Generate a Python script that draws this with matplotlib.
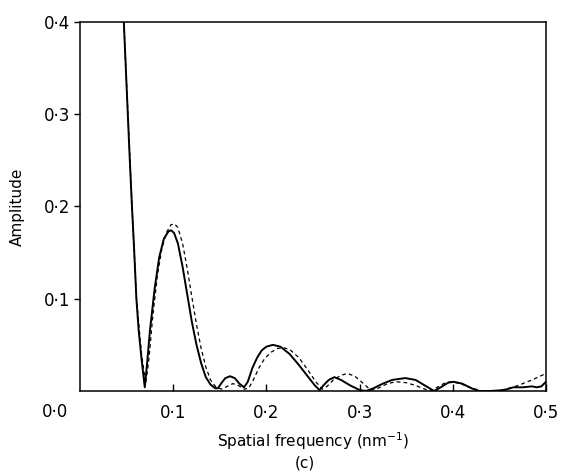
import matplotlib
matplotlib.use("Agg")
import matplotlib.pyplot as plt

# Solid curve (spatial frequency nm^-1, amplitude)
solid_x = [0.047, 0.050, 0.053, 0.0555, 0.058, 0.0605, 0.063, 0.066, 0.0695, 0.072,
           0.075, 0.080, 0.085, 0.090, 0.095, 0.098, 0.101, 0.105, 0.110, 0.115,
           0.120, 0.125, 0.130, 0.135, 0.140, 0.145, 0.148, 0.152, 0.156, 0.161,
           0.166, 0.171, 0.176, 0.180, 0.185, 0.190, 0.195, 0.200, 0.207, 0.215,
           0.225, 0.235, 0.245, 0.252, 0.257, 0.262, 0.267, 0.273, 0.280, 0.290,
           0.300, 0.307, 0.315, 0.325, 0.335, 0.349, 0.360, 0.370, 0.380, 0.387,
           0.395, 0.401, 0.410, 0.420, 0.428, 0.440, 0.455, 0.465, 0.475, 0.485,
           0.490, 0.495, 0.500]
solid_y = [0.400, 0.330, 0.260, 0.205, 0.155, 0.100, 0.065, 0.035, 0.004, 0.030,
           0.065, 0.110, 0.145, 0.165, 0.173, 0.174, 0.171, 0.160, 0.135, 0.105,
           0.075, 0.050, 0.030, 0.015, 0.007, 0.003, 0.003, 0.009, 0.014, 0.016,
           0.014, 0.008, 0.004, 0.010, 0.025, 0.036, 0.044, 0.048, 0.050, 0.048,
           0.040, 0.028, 0.015, 0.006, 0.001, 0.007, 0.012, 0.015, 0.012, 0.006,
           0.001, 0.000, 0.003, 0.008, 0.012, 0.014, 0.012, 0.006, 0.000, 0.004,
           0.009, 0.010, 0.008, 0.003, 0.000, 0.000, 0.001, 0.004, 0.004, 0.005,
           0.004, 0.005, 0.010]

# Dashed curve
dashed_x = [0.047, 0.0555, 0.0606, 0.066, 0.0705, 0.074, 0.078, 0.083, 0.088, 0.093,
            0.0975, 0.1015, 0.105, 0.110, 0.115, 0.120, 0.125, 0.130, 0.135, 0.140,
            0.146, 0.152, 0.158, 0.164, 0.170, 0.176, 0.181, 0.186, 0.192, 0.198,
            0.205, 0.212, 0.218, 0.225, 0.235, 0.245, 0.253, 0.260, 0.265, 0.272,
            0.280, 0.287, 0.295, 0.303, 0.312, 0.320, 0.330, 0.339, 0.350, 0.360,
            0.370, 0.376, 0.385, 0.392, 0.399, 0.408, 0.418, 0.431, 0.445, 0.457,
            0.470, 0.485, 0.500]
dashed_y = [0.400, 0.207, 0.100, 0.040, 0.008, 0.035, 0.080, 0.125, 0.155, 0.172,
            0.180, 0.181, 0.177, 0.160, 0.133, 0.102, 0.072, 0.046, 0.026, 0.012,
            0.004, 0.002, 0.005, 0.008, 0.006, 0.002, 0.003, 0.012, 0.025, 0.035,
            0.042, 0.046, 0.047, 0.045, 0.036, 0.022, 0.010, 0.002, 0.005, 0.012,
            0.017, 0.019, 0.016, 0.009, 0.001, 0.003, 0.008, 0.010, 0.009, 0.006,
            0.002, 0.000, 0.005, 0.009, 0.010, 0.008, 0.004, 0.000, 0.000, 0.002,
            0.006, 0.012, 0.019]

x_ticks = [0.1, 0.2, 0.3, 0.4, 0.5]
x_tick_labels = ["0·1", "0·2", "0·3", "0·4", "0·5"]
y_ticks = [0.1, 0.2, 0.3, 0.4]
y_tick_labels = ["0·1", "0·2", "0·3", "0·4"]

plt.rcParams['font.family'] = ['DejaVu Sans']

fig = plt.figure(figsize=(5.63, 4.74), dpi=100)
ax = fig.add_axes([80/563, 1 - 391/474, (546 - 80)/563, (391 - 21.7)/474])

ax.plot(solid_x, solid_y, color='black', lw=1.4, solid_joinstyle='round')
ax.plot(dashed_x, dashed_y, color='black', lw=0.9, linestyle=(0, (3, 2.5)))

ax.set_xlim(0, 0.5)
ax.set_ylim(0, 0.4)

ax.set_xticks(x_ticks)
ax.set_xticklabels(x_tick_labels, fontsize=12)
ax.set_yticks(y_ticks)
ax.set_yticklabels(y_tick_labels, fontsize=12)
ax.tick_params(axis='x', direction='in', length=5, width=1, pad=9)
ax.tick_params(axis='y', direction='out', length=4, width=1, pad=3)

for s in ax.spines.values():
    s.set_linewidth(1.1)

ax.text(-0.013, -0.023, "0·0", transform=ax.transData, fontsize=12,
        ha='right', va='center', clip_on=False)

ax.set_xlabel("Spatial frequency (nm$^{-1}$)", fontsize=11, labelpad=6)
ax.set_ylabel("Amplitude", fontsize=11, labelpad=14)

fig.text(305/563, 1 - 463/474, "(c)", fontsize=11, ha='center', va='center')

fig.savefig("out.png", dpi=100)
